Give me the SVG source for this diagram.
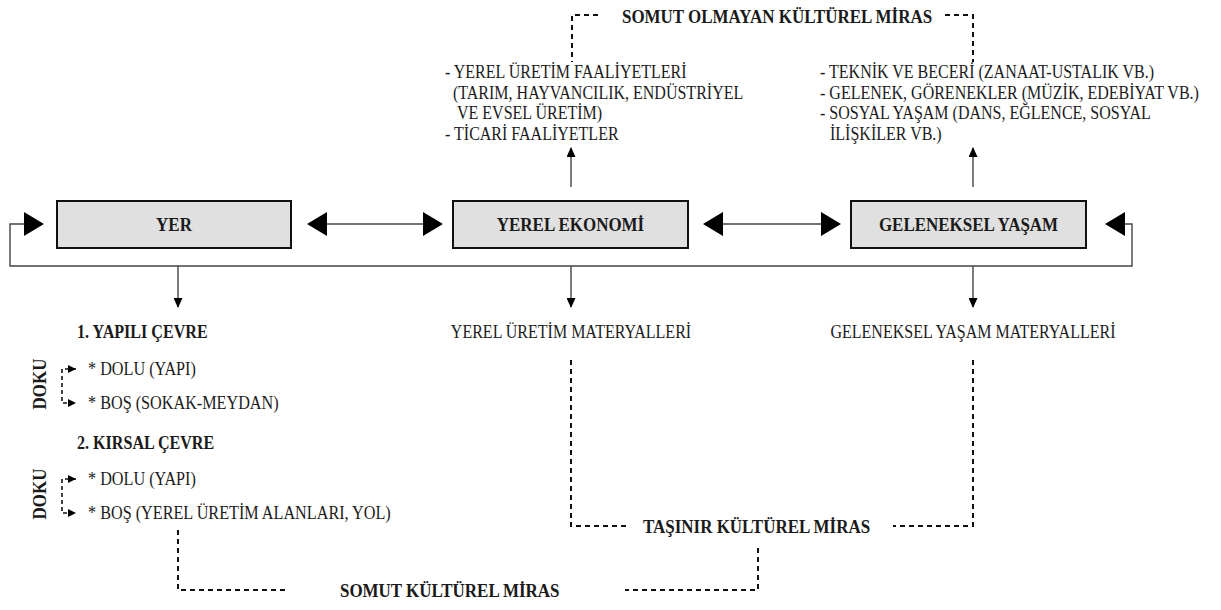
<svg xmlns="http://www.w3.org/2000/svg" width="1221" height="610" viewBox="0 0 1221 610">
<style>
text{font-family:"Liberation Serif","Times New Roman",serif;fill:#1a1a1a;font-size:18px}
.b{font-weight:bold;font-size:19.5px}
.box{fill:#e0e0e0;stroke:#111;stroke-width:2}
.ln{fill:none;stroke:#444;stroke-width:1.4}
.dl{fill:none;stroke:#111;stroke-width:2;stroke-dasharray:5 4}
.ds{fill:none;stroke:#111;stroke-width:1.6;stroke-dasharray:4 3}
</style>
<defs>
<marker id="big" markerUnits="userSpaceOnUse" markerWidth="20" markerHeight="24" viewBox="0 0 20 24" refX="18" refY="12" orient="auto-start-reverse"><path d="M0,0 L20,12 L0,24 z" fill="#000"/></marker>
<marker id="sm" markerUnits="userSpaceOnUse" markerWidth="10" markerHeight="9" viewBox="0 0 10 9" refX="9" refY="4.5" orient="auto-start-reverse"><path d="M0,0 L10,4.5 L0,9 z" fill="#000"/></marker>
<marker id="tiny" markerUnits="userSpaceOnUse" markerWidth="8" markerHeight="8" viewBox="0 0 8 8" refX="8" refY="4" orient="auto-start-reverse"><path d="M0,0 L8,4 L0,8 z" fill="#000"/></marker>
</defs>

<g id="connectors">
<path class="ln" d="M309 224 H441" marker-start="url(#big)" marker-end="url(#big)"/>
<path class="ln" d="M705 224 H839" marker-start="url(#big)" marker-end="url(#big)"/>
<path class="ln" d="M42 224 H10 V266 H1132 V224 H1107" marker-start="url(#big)" marker-end="url(#big)"/>
<path class="ln" d="M178 266 V307" marker-end="url(#sm)"/>
<path class="ln" d="M571 266 V307" marker-end="url(#sm)"/>
<path class="ln" d="M973 266 V307" marker-end="url(#sm)"/>
<path class="ln" d="M571 187 V148" marker-end="url(#sm)"/>
<path class="ln" d="M973 187 V148" marker-end="url(#sm)"/>
<path class="dl" d="M598 15 H572 V62"/>
<path class="dl" d="M945 15 H973 V62"/>
<path class="dl" d="M571 360 V526 H630"/>
<path class="dl" d="M973 360 V526 H893"/>
<path class="dl" d="M758 548 V590 H625"/>
<path class="dl" d="M178 530 V590 H285"/>
<path class="ds" d="M76 369 H62 V403 H76" marker-start="url(#tiny)" marker-end="url(#tiny)"/>
<path class="ds" d="M76 479 H62 V513 H76" marker-start="url(#tiny)" marker-end="url(#tiny)"/>
</g>

<g id="yer">
<rect class="box" x="57" y="201" width="234" height="47"/>
<text class="b" transform="translate(174,231) scale(0.87,1)" text-anchor="middle">YER</text>
</g>
<g id="yerel-ekonomi">
<rect class="box" x="453" y="201" width="235" height="47"/>
<text class="b" transform="translate(570.5,231) scale(0.87,1)" text-anchor="middle">YEREL EKONOMİ</text>
</g>
<g id="geleneksel-yasam">
<rect class="box" x="851" y="201" width="235" height="47"/>
<text class="b" transform="translate(968.5,231) scale(0.87,1)" text-anchor="middle">GELENEKSEL YAŞAM</text>
</g>

<g id="somut-olmayan">
<text class="b" transform="translate(622,23) scale(0.87,1)">SOMUT OLMAYAN KÜLTÜREL MİRAS</text>
</g>
<g id="ekonomi-faaliyet">
<text transform="translate(445,78) scale(0.89,1)">- YEREL ÜRETİM FAALİYETLERİ</text>
<text transform="translate(453,98.5) scale(0.89,1)">(TARIM, HAYVANCILIK, ENDÜSTRİYEL</text>
<text transform="translate(457,119) scale(0.89,1)">VE EVSEL ÜRETİM)</text>
<text transform="translate(445,139.5) scale(0.89,1)">- TİCARİ FAALİYETLER</text>
</g>
<g id="yasam-faaliyet">
<text transform="translate(820,78) scale(0.89,1)">- TEKNİK VE BECERİ (ZANAAT-USTALIK VB.)</text>
<text transform="translate(820,98.5) scale(0.89,1)">- GELENEK, GÖRENEKLER (MÜZİK, EDEBİYAT VB.)</text>
<text transform="translate(820,119) scale(0.89,1)">- SOSYAL YAŞAM (DANS, EĞLENCE, SOSYAL</text>
<text transform="translate(830,139.5) scale(0.89,1)">İLİŞKİLER VB.)</text>
</g>

<g id="yer-alt">
<text class="b" transform="translate(77,338) scale(0.87,1)" style="font-size:18.5px">1. YAPILI ÇEVRE</text>
<text class="b" transform="translate(46,384) rotate(-90) scale(0.87,1)" text-anchor="middle">DOKU</text>
<text transform="translate(88,375) scale(0.9,1)">* DOLU (YAPI)</text>
<text transform="translate(88,409) scale(0.9,1)">* BOŞ (SOKAK-MEYDAN)</text>
<text class="b" transform="translate(77,449) scale(0.87,1)" style="font-size:18.5px">2. KIRSAL ÇEVRE</text>
<text class="b" transform="translate(46,494) rotate(-90) scale(0.87,1)" text-anchor="middle">DOKU</text>
<text transform="translate(88,485) scale(0.9,1)">* DOLU (YAPI)</text>
<text transform="translate(88,519) scale(0.9,1)">* BOŞ (YEREL ÜRETİM ALANLARI, YOL)</text>
</g>
<g id="ekonomi-materyal">
<text transform="translate(571,338) scale(0.89,1)" text-anchor="middle">YEREL ÜRETİM MATERYALLERİ</text>
</g>
<g id="yasam-materyal">
<text transform="translate(973,338) scale(0.89,1)" text-anchor="middle">GELENEKSEL YAŞAM MATERYALLERİ</text>
</g>
<g id="tasinir">
<text class="b" transform="translate(643,533) scale(0.87,1)">TAŞINIR KÜLTÜREL MİRAS</text>
</g>
<g id="somut">
<text class="b" transform="translate(340,597) scale(0.87,1)">SOMUT KÜLTÜREL MİRAS</text>
</g>
</svg>
